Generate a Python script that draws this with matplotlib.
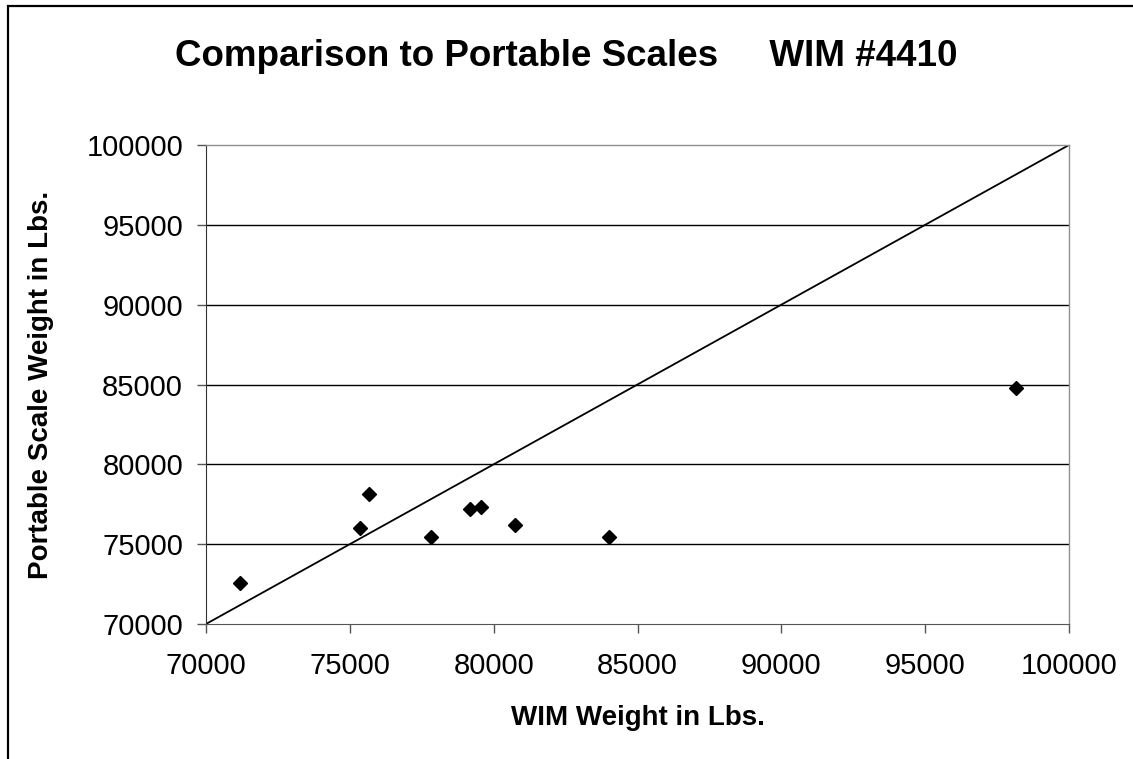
import matplotlib
matplotlib.use("Agg")
import matplotlib.pyplot as plt
from matplotlib.patches import Rectangle

# WIM weight vs portable scale weight (lbs)
wim_weight = [71180, 75370, 75680, 77820, 79170, 79560, 80750, 84010, 98150]
portable_weight = [72550, 76000, 78150, 75450, 77200, 77320, 76210, 75430, 84800]

# 1:1 reference line
ref_line = [70000, 100000]
ticks = [70000, 75000, 80000, 85000, 90000, 95000, 100000]

plt.rcParams['font.family'] = ['Liberation Sans', 'DejaVu Sans']

fig = plt.figure(figsize=(11.33, 7.59), dpi=100, facecolor='w')
ax = fig.add_axes([206/1133, 1 - 624/759, (1069 - 206)/1133, (624 - 145)/759])

# outer chart border (right/bottom fall outside the picture)
fig.patches.append(Rectangle((8/1133, -0.05), 1.1, 1 - 6/759 + 0.05,
                             transform=fig.transFigure, fill=False,
                             edgecolor='black', linewidth=1.6))

for t in ticks[1:-1]:
    ax.axhline(t, color='black', linewidth=1.0, zorder=1)

ax.plot(ref_line, ref_line, color='black', linewidth=1.3, zorder=2)
ax.plot(wim_weight, portable_weight, linestyle='none', marker='D',
        markersize=7.3, color='black', zorder=3)

ax.set_xlim(70000, 100000)
ax.set_ylim(70000, 100000)
ax.set_xticks(ticks)
ax.set_yticks(ticks)
ax.tick_params(axis='both', direction='out', length=6.5, width=1.0,
               color='#555555', labelsize=21)
ax.tick_params(axis='x', pad=13.5)
ax.tick_params(axis='y', pad=10)

for side in ['top', 'right']:
    ax.spines[side].set_color('#909090')
    ax.spines[side].set_linewidth(1.0)
ax.spines['left'].set_color('#333333')
ax.spines['bottom'].set_color('#555555')

fig.text(566/1133, 1 - 56/759, 'Comparison to Portable Scales     WIM #4410',
         ha='center', va='center', fontsize=26.5, fontweight='bold')
fig.text(638/1133, 1 - 718/759, 'WIM Weight in Lbs.', ha='center', va='center',
         fontsize=20, fontweight='bold')
fig.text(41/1133, 1 - 385/759, 'Portable Scale Weight in Lbs.', ha='center',
         va='center', rotation=90, fontsize=20, fontweight='bold')

fig.savefig('out.png', dpi=100)
